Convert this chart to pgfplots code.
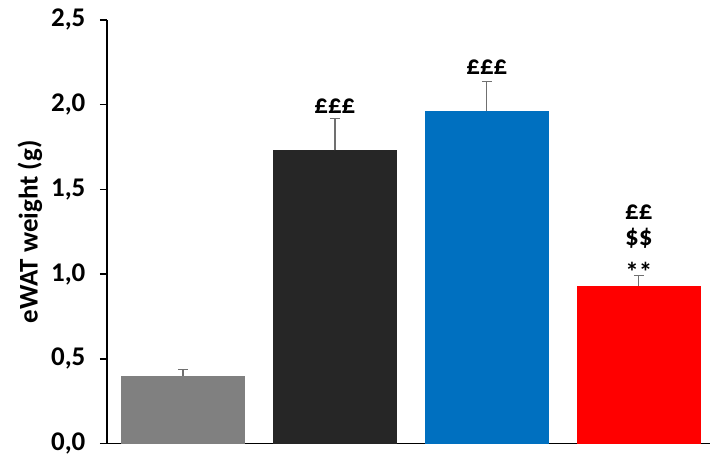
\documentclass[border=0pt]{standalone}
\usepackage{pgfplots}
\pgfplotsset{compat=1.18}
\usepackage{fontspec}
\setmainfont{Carlito}
\usetikzlibrary{calc}
\definecolor{cgray}{HTML}{808080}
\definecolor{cblack}{HTML}{262626}
\definecolor{cblue}{HTML}{0070C0}
\definecolor{cred}{HTML}{FF0000}
\definecolor{errc}{HTML}{707070}
\begin{document}
\begin{tikzpicture}
\begin{axis}[
  scale only axis, width=604pt, height=424pt,
  xmin=-0.5, xmax=3.47, ymin=0, ymax=2.5,
  axis x line*=bottom, axis y line*=left,
  axis line style={black, line width=1.5pt},
  xtick=\empty,
  ytick={0,0.5,1,1.5,2,2.5},
  tick align=outside, major tick length=7pt,
  y tick style={black, line width=1.5pt},
  ticklabel style={font=\fontsize{27}{32}\selectfont\bfseries},
  yticklabel style={xshift=-11pt},
  /pgf/number format/.cd, use comma, fixed, fixed zerofill, precision=1, assume math mode=true,
  /pgfplots/.cd,
  ylabel={eWAT weight (g)},
  ylabel style={font=\fontsize{27}{32}\selectfont\bfseries, at={(axis description cs:-0.1275,0.5)}, anchor=center, rotate=0},
  ybar, bar width=0.816, 
  error bars/y dir=plus, error bars/y explicit,
  error bars/error bar style={errc, line width=1.3pt},
  error bars/error mark options={errc, rotate=90, mark size=5pt, line width=1.3pt},
  clip=false,
]
\addplot[fill=cgray, draw=none, bar shift=0pt] coordinates {(0,0.40) +- (0,0.035)};
\addplot[fill=cblack, draw=none, bar shift=0pt] coordinates {(1,1.73) +- (0,0.19)};
\addplot[fill=cblue, draw=none, bar shift=0pt] coordinates {(2,1.96) +- (0,0.175)};
\addplot[fill=cred, draw=none, bar shift=0pt] coordinates {(3,0.93) +- (0,0.06)};
\begin{scope}[every node/.style={font=\fontsize{27}{32}\selectfont\bfseries, anchor=base, inner sep=0pt}]
\node at (axis cs:1,1.95) {£££};
\node at (axis cs:2,2.176) {£££};
\node at (axis cs:3,1.325) {££};
\node at (axis cs:3,1.17) {\$\$};
\node at (axis cs:3,0.955) {**};
\end{scope}
\end{axis}
\path ($(current axis.south west)+(-107pt,-12pt)$) rectangle ($(current axis.north east)+(0pt,20pt)$);
\end{tikzpicture}
\end{document}
